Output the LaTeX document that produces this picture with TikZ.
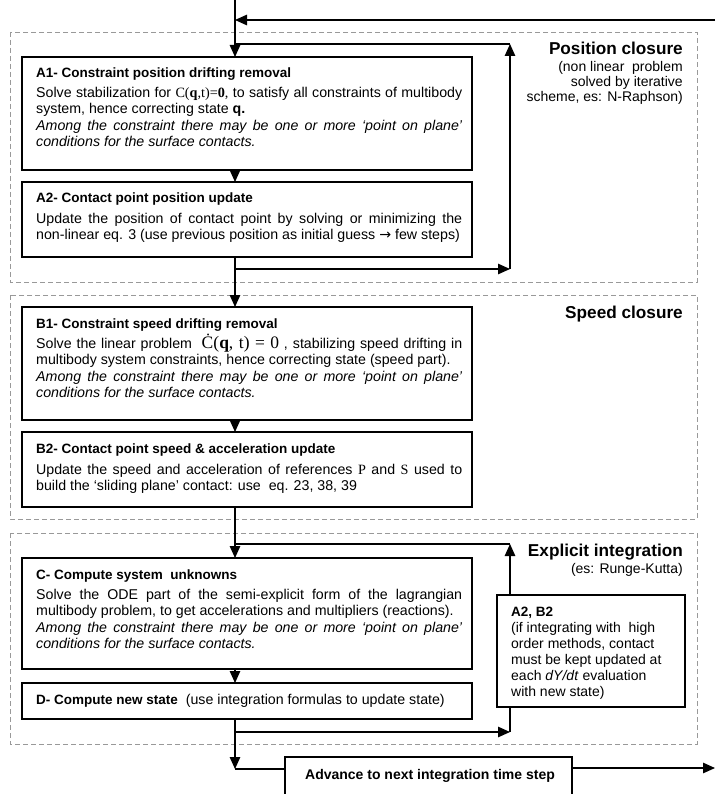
\documentclass[tikz,border=0pt]{standalone}
\usepackage{fontspec}
\setmainfont{Liberation Sans}
\newfontfamily\tnr{Liberation Serif}
\newfontfamily\djv{DejaVu Sans}
\usetikzlibrary{arrows.meta}
\newcommand\jline[1]{\makebox[426pt][s]{#1}}
\begin{document}
\begin{tikzpicture}[x=1pt,y=-1pt,
  box/.style={draw=black, line width=1.2pt, inner sep=0pt, outer sep=0pt, anchor=north west},
  frame/.style={draw=black!40, dash pattern=on 5pt off 3pt, line width=0.9pt},
  conn/.style={line width=1.2pt},
  arr/.style={conn, -{Triangle[length=12pt,width=10.5pt]}},
  ttl/.style={anchor=base west, inner sep=0pt, font=\fontsize{13.5}{16}\selectfont\bfseries},
  body/.style={anchor=base west, inner sep=0pt, font=\fontsize{14.2}{16}\selectfont},
  bodyit/.style={body, font=\fontsize{14.2}{16}\selectfont\itshape},
  sect/.style={anchor=base east, inner sep=0pt, font=\fontsize{17.2}{20}\selectfont\bfseries},
  sub/.style={anchor=base east, inner sep=0pt, font=\fontsize{14}{16}\selectfont},
  small/.style={anchor=base west, inner sep=0pt, font=\fontsize{14}{16}\selectfont}]
\useasboundingbox (0,0) rectangle (715,794);
\fill[white] (0,0) rectangle (715,794);

% dashed frames
\draw[frame] (10,32) rectangle (697,282);
\draw[frame] (10,295) rectangle (697,519);
\draw[frame] (10,533) rectangle (697,744);

% section labels
\node[sect] (posl) at (683,55) {Position closure};
\node[sub] (pos1) at (683,72) {(non linear~ problem};
\node[sub] (pos2) at (683,87) {solved by iterative};
\node[sub] (pos3) at (683,102) {scheme, es: N-Raphson)};
\node[sect] (spdl) at (683,318) {Speed closure};
\node[sect] (expl) at (683,556) {Explicit integration};
\node[sub] (exp1) at (683,573) {(es: Runge-Kutta)};

% boxes
\node[box, minimum width=450pt, minimum height=113pt] (A1) at (22,57) {};
\node[box, minimum width=450pt, minimum height=75pt] (A2) at (22,182) {};
\node[box, minimum width=450pt, minimum height=113pt] (B1) at (22,307) {};
\node[box, minimum width=450pt, minimum height=75pt] (B2) at (22,432) {};
\node[box, minimum width=450pt, minimum height=111pt] (C) at (22,558) {};
\node[box, minimum width=450pt, minimum height=36pt] (D) at (22,683) {};
\node[box, minimum width=188pt, minimum height=112pt] (AB) at (497,595) {};
\node[box, minimum width=287pt, minimum height=50pt] (Adv) at (285,757) {};

% A1
\node[ttl] (a1t) at (36,78) {A1- Constraint position drifting removal};
\node[body] (a1a) at (36,98) {\jline{Solve stabilization for {\tnr C(\textbf{q},t)=\textbf{0},} to satisfy all constraints of multibody}};
\node[body] (a1b) at (36,114) {system, hence correcting state \textbf{q.}};
\node[bodyit] (a1c) at (36,131) {\jline{Among the constraint there may be one or more ‘point on plane’}};
\node[bodyit] (a1d) at (36,147) {conditions for the surface contacts.};
% A2
\node[ttl] (a2t) at (36,203) {A2- Contact point position update};
\node[body] (a2a) at (36,224) {\jline{Update the position of contact point by solving or minimizing the}};
\node[body] (a2b) at (36,240) {non-linear eq. 3 (use previous position as initial guess {\djv →} few steps)};
% B1
\node[ttl] (b1t) at (36,328) {B1- Constraint speed drifting removal};
\node[body] (b1a) at (36,348) {\jline{Solve the linear problem~ {\tnr\fontsize{17.5}{18}\selectfont Ċ(\textbf{q}, t) = 0} , stabilizing speed drifting in}};
\node[body] (b1b) at (36,364) {multibody system constraints, hence correcting state (speed part).};
\node[bodyit] (b1c) at (36,381) {\jline{Among the constraint there may be one or more ‘point on plane’}};
\node[bodyit] (b1d) at (36,397) {conditions for the surface contacts.};
% B2
\node[ttl] (b2t) at (36,453) {B2- Contact point speed \& acceleration update};
\node[body] (b2a) at (36,474) {\jline{Update the speed and acceleration of references {\tnr P} and {\tnr S} used to}};
\node[body] (b2b) at (36,490) {build the ‘sliding plane’ contact: use~ eq. 23, 38, 39};
% C
\node[ttl] (ct) at (36,579) {C- Compute system~ unknowns};
\node[body] (ca) at (36,599) {\jline{Solve the ODE part of the semi-explicit form of the lagrangian}};
\node[body] (cb) at (36,615) {multibody problem, to get accelerations and multipliers (reactions).};
\node[bodyit] (cc) at (36,632) {\jline{Among the constraint there may be one or more ‘point on plane’}};
\node[bodyit] (cd) at (36,648) {conditions for the surface contacts.};
% D
\node[body] (dt) at (36,704.5) {{\fontsize{13.5}{16}\selectfont\bfseries D- Compute new state}~ (use integration formulas to update state)};
% A2,B2 box
\node[small, font=\fontsize{13.5}{16}\selectfont\bfseries] (abt) at (511,616) {A2, B2};
\node[small] (ab1) at (511,632) {(if integrating with~ high};
\node[small] (ab2) at (511,648) {order methods, contact};
\node[small] (ab3) at (511,664) {must be kept updated at};
\node[small] (ab4) at (511,680) {each \textit{dY/dt} evaluation};
\node[small] (ab5) at (511,696) {with new state)};
% Advance
\node[anchor=base, inner sep=0pt, font=\fontsize{14}{16}\selectfont\bfseries] (advt) at (430,779) {Advance to next integration time step};

% connectors
\coordinate (top) at (235,0);
\coordinate (inR) at (715,20);
\coordinate (inL) at (235,20);
\draw[arr] (inR) -- (inL);
\draw[arr] (top) -- (top |- A1.north);
\draw[arr] (top |- A1.south) -- (top |- A2.north);
\coordinate (p1) at (235,269);
\coordinate (p2) at (510,269);
\coordinate (p3) at (510,44);
\coordinate (p4) at (235,44);
\draw[arr] (p1) -- (p2);
\draw[arr] (p2) -- (p3);
\draw[conn] (p3) -- (p4);
\draw[arr] (top |- A2.south) -- (top |- B1.north);
\draw[arr] (top |- B1.south) -- (top |- B2.north);
\draw[arr] (top |- B2.south) -- (top |- C.north);
\draw[arr] (top |- C.south) -- (top |- D.north);
\coordinate (e1) at (510,544);
\coordinate (e2) at (235,544);
\draw[arr] (AB.north -| e1) -- (e1);
\draw[conn] (e1) -- (e2);
\coordinate (d1) at (235,732);
\coordinate (d2) at (510,732);
\draw[arr] (d1) -- (d2);
\draw[conn] (d2) -- (d2 |- AB.south);
\coordinate (d3) at (235,769);
\draw[arr] (top |- D.south) -- (d3);
\draw[conn] (d3) -- (d3 -| Adv.west);
\coordinate (o1) at (715,768);
\draw[arr] (o1 -| Adv.east) -- (o1);
\end{tikzpicture}
\end{document}
